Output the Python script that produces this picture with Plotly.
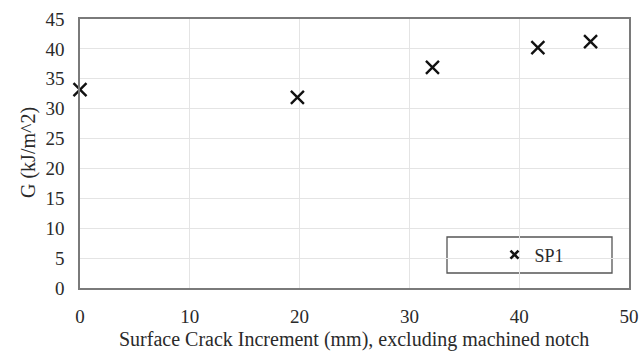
import plotly.graph_objects as go

crack_mm = [0, 19.8, 32.1, 41.7, 46.5]
g_kj = [33.2, 31.9, 36.9, 40.2, 41.2]
series_name = "SP1"
x_title = "Surface Crack Increment (mm), excluding machined notch"
y_title = "G (kJ/m^2)"

W, H = 639, 353
ml, mr, mt, mb = 80, 10, 19, 65
pw, ph = W - ml - mr, H - mt - mb

font_family = "Liberation Serif"
txt = "#2a2a2a"

fig = go.Figure()
fig.add_trace(go.Scatter(
    x=crack_mm, y=g_kj, mode="markers", name=series_name, showlegend=False,
    marker=dict(symbol="x-thin", size=13, line=dict(width=2.4, color="#111111"), color="#111111"),
    cliponaxis=False,
))
# legend-only entry with smaller marker
fig.add_trace(go.Scatter(
    x=[None], y=[None], mode="markers", name=series_name, showlegend=True,
    marker=dict(symbol="x-thin", size=8, line=dict(width=2.6, color="#111111"), color="#111111"),
))

fig.update_layout(
    width=W, height=H,
    margin=dict(l=ml, r=mr, t=mt, b=mb, autoexpand=False),
    paper_bgcolor="white", plot_bgcolor="white",
    font=dict(family=font_family, size=19, color=txt),
    showlegend=True,
    legend=dict(x=(532 - ml) / pw, y=(H - mb - 255) / ph,
                xanchor="center", yanchor="middle", itemwidth=30,
                bgcolor="rgba(0,0,0,0)", borderwidth=0,
                font=dict(family=font_family, size=18, color=txt)),
    xaxis=dict(range=[0, 50], dtick=10, showgrid=True, gridcolor="#e4e4e4", gridwidth=1,
               zeroline=False, showline=True, linecolor="#7a7a7a", linewidth=1.5, mirror=True,
               ticks="", ticklabelstandoff=10, automargin=False, ticklabeloverflow="allow",
               tickfont=dict(family=font_family, size=19, color=txt)),
    yaxis=dict(range=[0, 45], dtick=5, showgrid=True, gridcolor="#e4e4e4", gridwidth=1,
               zeroline=False, showline=True, linecolor="#7a7a7a", linewidth=1.5, mirror=True,
               ticks="", ticklabelstandoff=10, automargin=False, ticklabeloverflow="allow",
               tickfont=dict(family=font_family, size=19, color=txt)),
    annotations=[
        dict(text=x_title, xref="paper", yref="paper", x=(354 - ml) / pw, y=(H - mb - 339) / ph,
             showarrow=False, xanchor="center", yanchor="middle",
             font=dict(family=font_family, size=20, color=txt)),
        dict(text=y_title, xref="paper", yref="paper", x=(28 - ml) / pw, y=(H - mb - 153) / ph,
             showarrow=False, xanchor="center", yanchor="middle", textangle=-90,
             font=dict(family=font_family, size=20, color=txt)),
    ],
)
# legend frame
fig.add_shape(type="rect", xref="paper", yref="paper",
              x0=(447 - ml) / pw, x1=(612 - ml) / pw,
              y0=(H - mb - 273) / ph, y1=(H - mb - 237) / ph,
              line=dict(color="#555555", width=1.3), fillcolor="white", layer="below")

fig.write_html("out.html")
